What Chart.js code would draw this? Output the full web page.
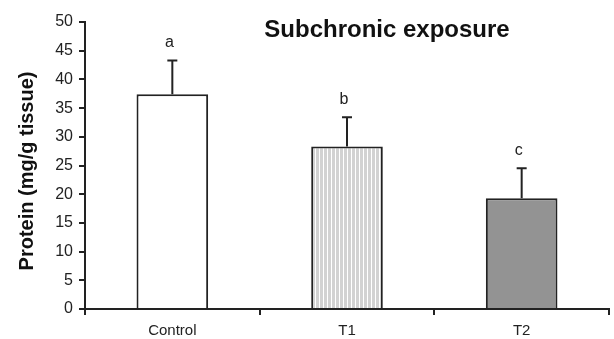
<!DOCTYPE html>
<html>
<head>
<meta charset="utf-8">
<script src="https://cdn.jsdelivr.net/npm/chart.js@4.4.1/dist/chart.umd.min.js"></script>
<style>
  html, body { margin: 0; padding: 0; background: #fff; }
  #wrap { width: 614px; height: 339px; position: relative; }
</style>
</head>
<body>
<div id="wrap"><canvas id="myChart" width="614" height="339"></canvas></div>
<script>
const groups = ["Control", "T1", "T2"];
const means = [37.4, 28.3, 19.3];
const errors = [5.9, 5.1, 5.2];
const letters = ["a", "b", "c"];
const yTicks = [0, 5, 10, 15, 20, 25, 30, 35, 40, 45, 50];

// striped fill for T1
function stripePattern() {
  const c = document.createElement("canvas");
  c.width = 4;
  c.height = 4;
  const g = c.getContext("2d");
  g.fillStyle = "#d2d2d2";
  g.fillRect(0, 0, 4, 4);
  g.fillStyle = "#ffffff";
  g.fillRect(3, 0, 1, 4);
  return g.createPattern(c, "repeat");
}

const ink = "#222222";
const font = "'Liberation Sans', Arial, sans-serif";

// error bars + letters + title + y title
const extras = {
  id: "extras",
  afterDatasetsDraw(chart) {
    const ctx = chart.ctx;
    const yScale = chart.scales.y;
    const meta = chart.getDatasetMeta(0);
    ctx.save();
    ctx.strokeStyle = ink;
    ctx.lineWidth = 2;
    meta.data.forEach((bar, i) => {
      const top = yScale.getPixelForValue(means[i]);
      const errTop = yScale.getPixelForValue(means[i] + errors[i]);
      ctx.beginPath();
      ctx.moveTo(bar.x, top);
      ctx.lineTo(bar.x, errTop);
      ctx.moveTo(bar.x - 5, errTop);
      ctx.lineTo(bar.x + 5, errTop);
      ctx.stroke();
      ctx.fillStyle = ink;
      ctx.font = "16px " + font;
      ctx.textAlign = "center";
      ctx.textBaseline = "middle";
      ctx.fillText(letters[i], bar.x - 3, errTop - 18);
    });
    ctx.font = "bold 24px " + font;
    ctx.fillStyle = "#111";
    ctx.textAlign = "center";
    ctx.textBaseline = "middle";
    ctx.fillText("Subchronic exposure", 387, 30);

    ctx.translate(27, 171);
    ctx.rotate(-Math.PI / 2);
    ctx.font = "bold 20px " + font;
    ctx.fillText("Protein (mg/g tissue)", 0, 0);
    ctx.restore();
  }
};

const data = {
  labels: groups,
  datasets: [
    {
      data: means,
      backgroundColor: ["#ffffff", stripePattern(), "#939393"],
      borderColor: ink,
      borderWidth: 2,
      borderSkipped: "bottom",
      categoryPercentage: 1,
      barPercentage: 0.41,
    },
  ],
};

const config = {
  type: "bar",
  data: data,
  plugins: [extras],
  options: {
    responsive: false,
    animation: false,
    layout: { padding: { top: 22, right: 5, left: 0, bottom: 0 } },
    plugins: {
      legend: { display: false },
      tooltip: { enabled: false },
    },
    scales: {
      x: {
        offset: true,
        grid: {
          offset: true,
          drawOnChartArea: false,
          drawTicks: true,
          tickLength: 6,
          color: ink,
          lineWidth: 2,
        },
        border: { color: ink, width: 2 },
        ticks: {
          color: ink,
          font: { family: font, size: 15 },
          padding: 7,
        },
        afterFit(scale) {
          scale.height = 30;
        },
      },
      y: {
        min: 0,
        max: 50,
        afterBuildTicks(scale) {
          scale.ticks = yTicks.map((v) => ({ value: v }));
        },
        grid: {
          drawOnChartArea: false,
          drawTicks: true,
          tickLength: 6,
          color: ink,
          lineWidth: 2,
        },
        border: { color: ink, width: 2 },
        ticks: {
          color: ink,
          font: { family: font, size: 16 },
          padding: 6,
        },
        afterFit(scale) {
          scale.width = 85;
        },
      },
    },
  },
};

new Chart(document.getElementById("myChart"), config);
</script>
</body>
</html>
